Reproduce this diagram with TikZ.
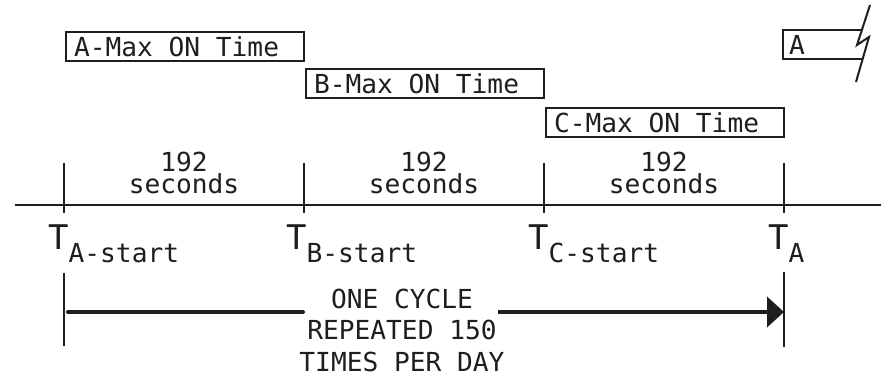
\documentclass[tikz,border=0pt]{standalone}
\usepackage{fontspec}
\setmainfont{DejaVu Sans Mono}
\usetikzlibrary{arrows.meta,calc}
\definecolor{ink}{RGB}{30,30,30}
\newcommand{\mfont}{\fontsize{26.2}{26.2}\selectfont}
\newcommand{\bigT}{\fontsize{34}{34}\selectfont T}
\begin{document}
\begin{tikzpicture}[x=1pt,y=-1pt,
  every node/.style={text=ink},
  lbl/.style={font=\mfont, inner sep=0pt},
  onbox/.style={draw=ink, line width=2pt, anchor=north west, minimum height=29pt,
    inner xsep=8pt, inner ysep=0pt, font=\mfont},
  tlabel/.style={anchor=base west, inner sep=0pt},
  rule/.style={draw=ink, line width=2pt},
  bigarrow/.style={draw=ink, line width=4pt, line cap=round},
]
\useasboundingbox (0,0) rectangle (884,374);

% tick positions on the time line
\coordinate (tA) at (64,205);
\coordinate (tB) at (304,205);
\coordinate (tC) at (544,205);
\coordinate (tD) at (784,205);
\coordinate (lineL) at (15,205);
\coordinate (lineR) at (881,205);

% max on time boxes
\node[onbox] (boxA) at (65,31) {\makebox[222pt][l]{A-Max ON Time}};
\node[onbox] (boxB) at (305,68) {\makebox[222pt][l]{B-Max ON Time}};
\node[onbox] (boxC) at (545,107) {\makebox[222pt][l]{C-Max ON Time}};

% partial box A with break mark
\coordinate (bA1) at (862,59);
\coordinate (bA2) at (783,59);
\coordinate (bA3) at (783,30);
\coordinate (bA4) at (862,30);
\draw[rule, line cap=butt] (bA1) -- (bA2) -- (bA3) -- (bA4);
\node[lbl, anchor=west] (boxAnext) at (789,45) {A};
\coordinate (z1) at (870,5);
\coordinate (z2) at (857,45);
\coordinate (z3) at (869,37);
\coordinate (z4) at (856,82);
\draw[rule, line join=miter] (z1) -- (z2) -- (z3) -- (z4);

% time line and ticks
\draw[rule] (lineL) -- (lineR);
\foreach \t in {tA,tB,tC,tD}{
  \draw[rule] ($(\t)+(0,-42)$) -- ($(\t)+(0,8)$);
}

% interval labels
\foreach \a/\b/\n in {tA/tB/i1,tB/tC/i2,tC/tD/i3}{
  \node[lbl, anchor=base] (\n num) at ($($(\a)!0.5!(\b)$)+(0,-33)$) {192};
  \node[lbl, anchor=base] (\n sec) at ($($(\a)!0.5!(\b)$)+(0,-11)$) {seconds};
}

% time labels
\node[tlabel] (TA) at ($(tA)+(-16,45)$) {\bigT\mfont\raisebox{-13pt}{A-start}};
\node[tlabel] (TB) at ($(tB)+(-18,45)$) {\bigT\mfont\raisebox{-13pt}{B-start}};
\node[tlabel] (TC) at ($(tC)+(-16,45)$) {\bigT\mfont\raisebox{-13pt}{C-start}};
\node[tlabel] (TD) at ($(tD)+(-16,45)$) {\bigT\mfont\raisebox{-13pt}{A}};

% cycle marker
\coordinate (vL1) at (64,273);
\coordinate (vL2) at (64,346);
\coordinate (vR1) at (784,272);
\coordinate (vR2) at (784,347);
\draw[rule] (vL1) -- (vL2);
\draw[rule] (vR1) -- (vR2);

\node[lbl, align=center, anchor=base, font=\fontsize{26.2}{31.5}\selectfont] (cyc) at (402,371)
  {ONE CYCLE\\REPEATED 150\\TIMES PER DAY};
\coordinate (aL) at (68,312);
\coordinate (aM1) at (303,312);
\coordinate (aM2) at (498,312);
\coordinate (aR) at (784,312);
\draw[bigarrow] (aL) -- (aM1);
\draw[bigarrow, line cap=butt, -{Triangle[length=17pt,width=30pt]}] (aM2) -- (aR);
\end{tikzpicture}
\end{document}
